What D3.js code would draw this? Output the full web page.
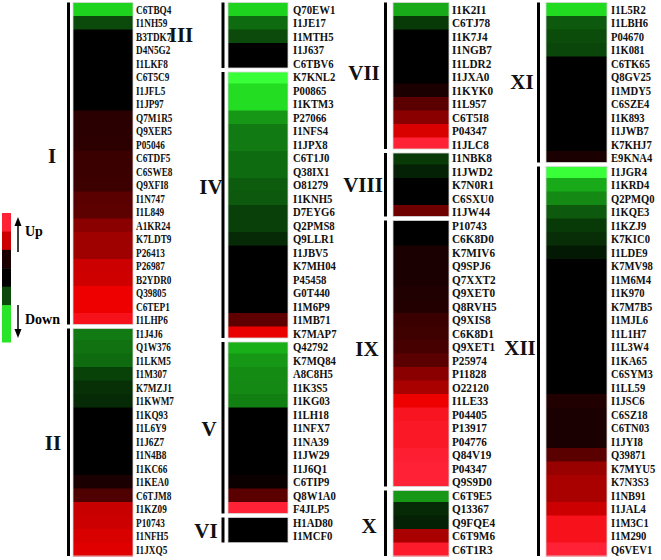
<!DOCTYPE html>
<html>
<head>
<meta charset="utf-8">
<script src="https://cdn.jsdelivr.net/npm/d3@7"></script>
<style>
  body { margin: 0; background: #fff; }
  svg { display: block; }
</style>
</head>
<body>
<div id="chart-container"></div>
<script>
// Column 1: groups I and II
var col1Groups = ['I', 'II'];
var col1GroupSizes = [24, 17];
var col1Labels = ['C6TBQ4', 'I1NH59', 'B3TDK7', 'D4N5G2', 'I1LKF8', 'C6T5C9', 'I1JFL5', 'I1JP97',
  'Q7M1R5', 'Q9XER5', 'P05046', 'C6TDF5', 'C6SWE8', 'Q9XFI8', 'I1N747', 'I1L849', 'A1KR24',
  'K7LDT9', 'P26413', 'P26987', 'B2YDR0', 'Q39805', 'C6TEP1', 'I1LHP6',
  'I1J4J6', 'Q1W376', 'I1LKM5', 'I1M307', 'K7MZJ1', 'I1KWM7', 'I1KQ93', 'I1L6Y9', 'I1J6Z7',
  'I1N4B8', 'I1KC66', 'I1KEA0', 'C6TJM8', 'I1KZ09', 'P10743', 'I1NFH5', 'I1JXQ5'];
var col1Values = [-0.83, -0.29, 0, 0, 0, 0, 0, 0, 0.16, 0.16, 0.17, 0.22, 0.22, 0.23, 0.34, 0.35,
  0.52, 0.6, 0.6, 0.77, 0.78, 0.9, 0.9, 0.95,
  -0.48, -0.45, -0.42, -0.26, -0.19, -0.165, 0, 0, 0, 0, 0, 0.1, 0.3, 0.76, 0.77, 0.82, 0.85];

// Column 2: groups III to VI
var col2Groups = ['III', 'IV', 'V', 'VI'];
var col2GroupSizes = [5, 20, 13, 2];
var col2Labels = ['Q70EW1', 'I1JE17', 'I1MTH5', 'I1J637', 'C6TBV6',
  'K7KNL2', 'P00865', 'I1KTM3', 'P27066', 'I1NFS4', 'I1JPX8', 'C6T1J0', 'Q38IX1', 'O81279',
  'I1KNH5', 'D7EYG6', 'Q2PMS8', 'Q9LLR1', 'I1JBV5', 'K7MH04', 'P45458', 'G0T440', 'I1M6P9',
  'I1MB71', 'K7MAP7',
  'Q42792', 'K7MQ84', 'A8C8H5', 'I1K3S5', 'I1KG03', 'I1LH18', 'I1NFX7', 'I1NA39', 'I1JW29',
  'I1J6Q1', 'C6TIP9', 'Q8W1A0', 'F4JLP5',
  'H1AD80', 'I1MCF0'];
var col2Values = [-0.83, -0.42, -0.29, 0, 0,
  -1, -0.87, -0.87, -0.6, -0.48, -0.48, -0.42, -0.42, -0.36, -0.35, -0.25, -0.25, -0.165,
  0, 0, 0, 0, 0, 0.36, 0.88,
  -0.69, -0.6, -0.55, -0.54, -0.5, 0, 0, 0, 0, 0, 0.04, 0.34, 1.0,
  0, 0];

// Column 3: groups VII to X
var col3Groups = ['VII', 'VIII', 'IX', 'X'];
var col3GroupSizes = [11, 5, 20, 5];
var col3Labels = ['I1K2I1', 'C6TJ78', 'I1K7J4', 'I1NGB7', 'I1LDR2', 'I1JXA0', 'I1KYK0', 'I1L957',
  'C6T5I8', 'P04347', 'I1JLC8',
  'I1NBK8', 'I1JWD2', 'K7N0R1', 'C6SXU0', 'I1JW44',
  'P10743', 'C6K8D0', 'K7MIV6', 'Q9SPJ6', 'Q7XXT2', 'Q9XET0', 'Q8RVH5', 'Q9XIS8', 'C6K8D1',
  'Q9XET1', 'P25974', 'P11828', 'O22120', 'I1LE33', 'P04405', 'P13917', 'P04776', 'Q84V19',
  'P04347', 'Q9S9D0',
  'C6T9E5', 'Q13367', 'Q9FQE4', 'C6T9M6', 'C6T1R3'];
var col3Values = [-0.67, -0.23, 0, 0, 0, 0, 0.1, 0.34, 0.52, 0.82, 1.0,
  -0.23, -0.13, 0, 0, 0.42,
  0, 0, 0.1, 0.1, 0.1, 0.12, 0.13, 0.22, 0.24, 0.27, 0.34, 0.52, 0.64, 0.9, 0.96, 0.97, 0.97,
  0.99, 1, 1,
  -0.6, -0.165, -0.13, 0.64, 0.98];

// Column 4: groups XI and XII
var col4Groups = ['XI', 'XII'];
var col4GroupSizes = [12, 29];
var col4Labels = ['I1L5R2', 'I1LBH6', 'P04670', 'I1K081', 'C6TK65', 'Q8GV25', 'I1MDY5', 'C6SZE4',
  'I1K893', 'I1JWB7', 'K7KHJ7', 'E9KNA4',
  'I1JGR4', 'I1KRD4', 'Q2PMQ0', 'I1KQE3', 'I1KZJ9', 'K7KIC0', 'I1LDE9', 'K7MV98', 'I1M6M4',
  'I1K970', 'K7M7B5', 'I1MJL6', 'I1L1H7', 'I1L3W4', 'I1KA65', 'C6SYM3', 'I1LL59', 'I1JSC6',
  'C6SZ18', 'C6TN03', 'I1JYI8', 'Q39871', 'K7MYU5', 'K7N3S3', 'I1NB91', 'I1JAL4', 'I1M3C1',
  'I1M290', 'Q6VEV1'];
var col4Values = [-0.86, -0.35, -0.3, -0.27, 0, 0, 0, 0, 0, 0, 0, 0.1,
  -1, -0.67, -0.54, -0.35, -0.23, -0.18, -0.1, 0, 0, 0, 0, 0, 0, 0, 0, 0, 0,
  0.12, 0.1, 0.1, 0.1, 0.34, 0.58, 0.64, 0.64, 0.77, 0.95, 0.95, 1.0];

// Legend blocks, top to bottom
var legendValues = [1, 0.77, 0.1, 0, -0.29, -0.9, -0.9];

// Layout for each column (positions only)
var columns = [
  { labels: col1Labels, values: col1Values, groups: col1Groups, sizes: col1GroupSizes,
    x0: 73, x1: 133, barX: 68.5, labelX: 136, labelScale: 0.74,
    groupX: [52, 53], groupDy: [-9, 1] },
  { labels: col2Labels, values: col2Values, groups: col2Groups, sizes: col2GroupSizes,
    x0: 228, x1: 288, barX: 223, labelX: 293, labelScale: 0.86,
    groupX: [181, 211, 209, 206], groupDy: [-2, -18, 1, 2] },
  { labels: col3Labels, values: col3Values, groups: col3Groups, sizes: col3GroupSizes,
    x0: 393, x1: 449, barX: 385.5, labelX: 452, labelScale: 0.9,
    groupX: [364, 363, 367, 369], groupDy: [-4, 0, -5, 3] },
  { labels: col4Labels, values: col4Values, groups: col4Groups, sizes: col4GroupSizes,
    x0: 546, x1: 607, barX: 538.5, labelX: 611, labelScale: 0.85,
    groupX: [522, 520], groupDy: [-2, -13] }
];

var width = 661, height = 560;
var rowH = 13.5, rowTop = 2.5;  // note: "top" is reserved by the window

// Green - black - red colour scale
var color = d3.scaleLinear()
  .domain([-1, -0.85, 0, 0.9, 1])
  .range(['#39ff39', '#1fd81f', '#000000', '#ee0000', '#ff2236'])
  .clamp(true);

var svg = d3.select('#chart-container')
  .append('svg')
  .attr('width', width)
  .attr('height', height);

var fontFamily = '"Liberation Serif", "Times New Roman", serif';

columns.forEach(function (col) {
  var n = col.labels.length;
  // row index -> y
  var y = d3.scaleLinear().domain([0, n]).range([rowTop, rowTop + n * rowH]);
  var x = d3.scaleLinear().domain([0, 1]).range([col.x0, col.x1]);

  var g = svg.append('g');

  // Cells
  g.selectAll('.cell')
    .data(col.values)
    .enter().append('rect')
    .attr('class', 'cell')
    .attr('x', x(0))
    .attr('y', function (d, i) { return y(i); })
    .attr('width', x(1) - x(0))
    .attr('height', rowH + 0.5)
    .attr('fill', function (d) { return color(d); });

  // Row labels (the source figure squeezes them sideways)
  g.selectAll('.row-label')
    .data(col.labels)
    .enter().append('text')
    .attr('class', 'row-label')
    .attr('transform', function (d, i) {
      return 'translate(' + col.labelX + ',' + y(i + 0.5) + ') scale(' + col.labelScale + ',1)';
    })
    .attr('dy', '0.35em')
    .attr('font-family', fontFamily)
    .attr('font-weight', 'bold')
    .attr('font-size', '12.5px')
    .attr('fill', '#111')
    .text(function (d) { return d; });

  // Group separators, bars and names
  var start = 0;
  col.groups.forEach(function (name, gi) {
    var end = start + col.sizes[gi];
    var y0 = y(start) + (start === 0 ? 0 : 2);
    var y1 = y(end) - (end === n ? 0 : 2);

    // white gap between groups
    if (end < n) {
      g.append('rect')
        .attr('x', x(0) - 1)
        .attr('y', y(end) - 2)
        .attr('width', x(1) - x(0) + 2)
        .attr('height', 4)
        .attr('fill', '#fff');
    }
    // faint outline of the group block
    g.append('rect')
      .attr('x', x(0))
      .attr('y', y0)
      .attr('width', x(1) - x(0))
      .attr('height', y1 - y0)
      .attr('fill', 'none')
      .attr('stroke', '#d8d8d8')
      .attr('stroke-width', 0.8);

    g.append('line')
      .attr('x1', col.barX).attr('x2', col.barX)
      .attr('y1', y0).attr('y2', y1)
      .attr('stroke', '#000')
      .attr('stroke-width', 3);

    g.append('text')
      .attr('x', col.groupX[gi])
      .attr('y', (y(start) + y(end)) / 2 + col.groupDy[gi])
      .attr('dy', '0.35em')
      .attr('text-anchor', 'middle')
      .attr('font-family', fontFamily)
      .attr('font-weight', 'bold')
      .attr('font-size', '21px')
      .attr('fill', '#111')
      .text(name);

    start = end;
  });
});

// Legend bar
var legendY = d3.scaleLinear().domain([0, legendValues.length]).range([213, 342]);
var legend = svg.append('g');
legend.selectAll('rect')
  .data(legendValues)
  .enter().append('rect')
  .attr('x', 2)
  .attr('y', function (d, i) { return legendY(i); })
  .attr('width', 9)
  .attr('height', legendY(1) - legendY(0) + 0.5)
  .attr('fill', function (d) { return color(d); });

// Up arrow
legend.append('line')
  .attr('x1', 18).attr('x2', 18).attr('y1', 252).attr('y2', 222)
  .attr('stroke', '#000').attr('stroke-width', 1.5);
legend.append('path')
  .attr('d', 'M14.5,226 L18,217 L21.5,226 Z')
  .attr('fill', '#000');
legend.append('text')
  .attr('x', 25).attr('y', 236)
  .attr('font-family', fontFamily).attr('font-weight', 'bold').attr('font-size', '14px')
  .text('Up');

// Down arrow
legend.append('line')
  .attr('x1', 18).attr('x2', 18).attr('y1', 305).attr('y2', 333)
  .attr('stroke', '#000').attr('stroke-width', 1.5);
legend.append('path')
  .attr('d', 'M14.5,329 L18,338 L21.5,329 Z')
  .attr('fill', '#000');
legend.append('text')
  .attr('x', 25).attr('y', 324)
  .attr('font-family', fontFamily).attr('font-weight', 'bold').attr('font-size', '14px')
  .text('Down');
</script>
</body>
</html>
